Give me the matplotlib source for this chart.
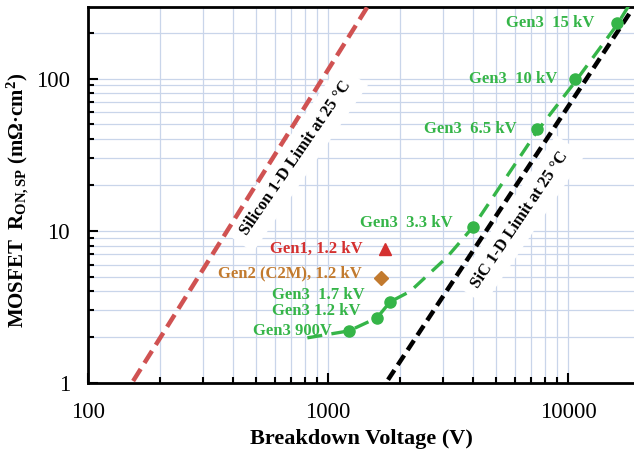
import numpy as np
import matplotlib
matplotlib.use("Agg")
import matplotlib.pyplot as plt
from matplotlib.ticker import LogLocator, NullFormatter, FixedLocator, FixedFormatter

plt.rcParams["font.family"] = ["Liberation Serif", "DejaVu Serif"]
plt.rcParams["mathtext.fontset"] = "custom"
plt.rcParams["mathtext.rm"] = "Liberation Serif:bold"
plt.rcParams["mathtext.it"] = "Liberation Serif:bold"
plt.rcParams["mathtext.bf"] = "Liberation Serif:bold"

# Gen3 devices (breakdown V, Ron,sp mOhm cm2)
gen3_labels = ["Gen3 900V", "Gen3 1.2 kV", "Gen3  1.7 kV", "Gen3  3.3 kV",
               "Gen3  6.5 kV", "Gen3  10 kV", "Gen3  15 kV"]
gen3_bv = [1223, 1600, 1813, 4020, 7430, 10700, 16000]
gen3_ron = [2.2, 2.68, 3.41, 10.6, 46.9, 100, 233]

# Gen3 trend line
trend_bv = [820, 1223, 1600, 1813, 2200, 3130, 4020, 7430, 10700, 16000, 17900]
trend_ron = [1.98, 2.2, 2.68, 3.41, 4.0, 6.7, 10.6, 45.0, 95.0, 225, 300]

gen1_bv, gen1_ron = [1728], [7.6]
gen2_bv, gen2_ron = [1663], [4.9]

# 1-D limits
si_bv = [154, 1468]
si_ron = [1.03, 300]
sic_bv = [1778, 18500]
sic_ron = [1.05, 284]

green = "#35b548"
red = "#d4302f"
brown = "#c27a2e"
grid_c = "#c9d5ea"

fig = plt.figure(figsize=(6.34, 4.54), dpi=100)
ax = fig.add_axes([0.139, 0.1564, 0.861, 0.8282])
ax.set_xscale("log")
ax.set_yscale("log")
ax.set_xlim(100, 18840)
ax.set_ylim(1, 295)

ax.grid(True, which="both", color=grid_c, lw=0.9)
ax.set_axisbelow(True)

ax.plot(si_bv, si_ron, color="#d05252", lw=3.2, dashes=(3.2, 1.6), zorder=3)
ax.plot(sic_bv, sic_ron, color="black", lw=3.2, dashes=(2.6, 1.4), zorder=3)
ax.plot(trend_bv, trend_ron, color=green, lw=2.4, dashes=(4.5, 2.8), zorder=4)
ax.plot(gen3_bv, gen3_ron, "o", color=green, ms=8, zorder=5)
ax.plot(gen1_bv, gen1_ron, "^", color=red, ms=9, zorder=5)
ax.plot(gen2_bv, gen2_ron, "D", color=brown, ms=7, zorder=5)

# label offsets in points (dx, dy)
offs = [(-12, 0), (-12, 5), (-18, 5), (-15, 3), (-15, 0), (-13, 0), (-16, 0)]
for lab, x, y, (dx, dy) in zip(gen3_labels, gen3_bv, gen3_ron, offs):
    ax.annotate(lab, (x, y), xytext=(dx, dy), textcoords="offset points",
                ha="right", va="center", color=green, fontsize=12,
                fontweight="bold", zorder=6)
ax.annotate("Gen1, 1.2 kV", (gen1_bv[0], gen1_ron[0]), xytext=(-16, 0),
            textcoords="offset points", ha="right", va="center", color=red,
            fontsize=12, fontweight="bold")
ax.annotate("Gen2 (C2M), 1.2 kV", (gen2_bv[0], gen2_ron[0]), xytext=(-14, 3),
            textcoords="offset points", ha="right", va="center", color=brown,
            fontsize=12, fontweight="bold")

box = dict(facecolor="white", edgecolor="none", pad=7)
ax.text(735, 29.8, "Silicon 1-D Limit at 25 °C", rotation=55.5, ha="center",
        va="center", rotation_mode="anchor", fontsize=12, fontweight="bold",
        bbox=box, zorder=2)
ax.text(6310, 11.8, "SiC 1-D Limit at 25 °C", rotation=56, ha="center",
        va="center", rotation_mode="anchor", fontsize=12, fontweight="bold",
        bbox=box, zorder=2)

ax.xaxis.set_major_locator(FixedLocator([100, 1000, 10000]))
ax.xaxis.set_major_formatter(FixedFormatter(["100", "1000", "10000"]))
ax.xaxis.set_minor_locator(LogLocator(base=10, subs=np.arange(2, 10)))
ax.xaxis.set_minor_formatter(NullFormatter())
ax.yaxis.set_major_locator(FixedLocator([1, 10, 100]))
ax.yaxis.set_major_formatter(FixedFormatter(["1", "10", "100"]))
ax.yaxis.set_minor_locator(LogLocator(base=10, subs=np.arange(2, 10)))
ax.yaxis.set_minor_formatter(NullFormatter())

ax.tick_params(which="both", direction="in", labelsize=16.5, width=1.5,
               top=False, right=False)
ax.tick_params(axis="x", which="major", length=7, pad=14)
ax.tick_params(axis="y", which="major", length=7, pad=13)
ax.tick_params(which="minor", length=4)

for s in ["left", "bottom", "top"]:
    ax.spines[s].set_linewidth(2)
ax.spines["right"].set_visible(False)

ax.set_xlabel("Breakdown Voltage (V)", fontsize=16, fontweight="bold", labelpad=4)
ax.set_ylabel(r"MOSFET  R$_{\mathrm{ON,SP}}$ (mΩ·cm$^{\mathrm{2}}$)",
              fontsize=15, fontweight="bold")
ax.yaxis.set_label_coords(-0.104, 0.487)

fig.savefig("out.png", dpi=100)
